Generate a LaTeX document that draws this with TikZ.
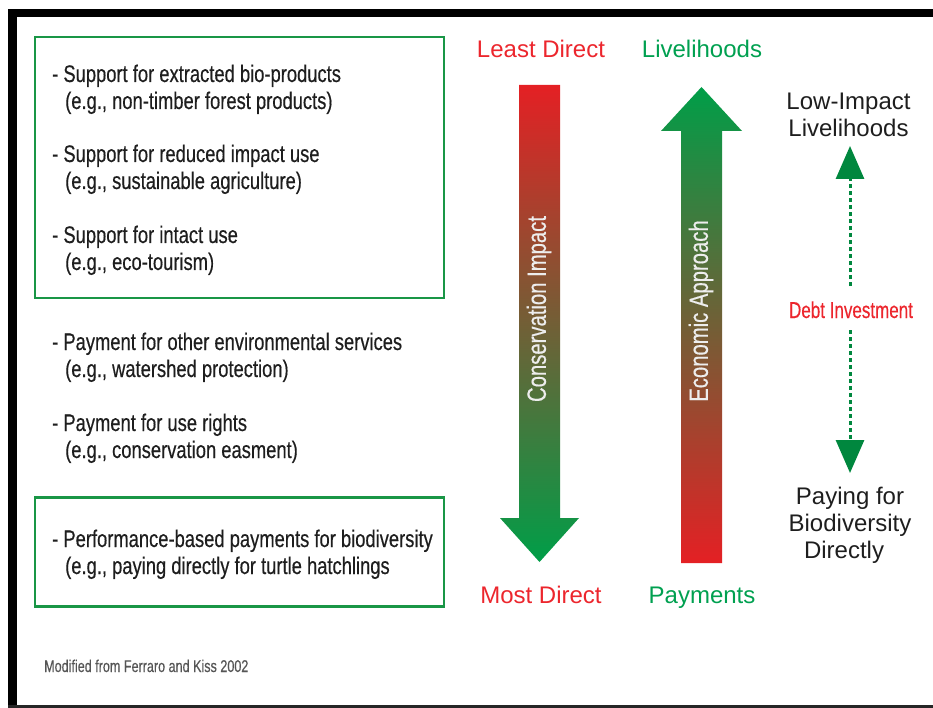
\documentclass[tikz,border=0pt]{standalone}
\usepackage{fontspec}
\setmainfont{Liberation Sans}
\newfontfamily\condfont[FakeStretch=0.765,FakeBold=0.4]{Liberation Sans}
\newfontfamily\narrowfont[FakeStretch=0.74,FakeBold=0.4]{Liberation Sans}
\usetikzlibrary{arrows.meta}

\definecolor{boxgreen}{RGB}{25,150,70}
\definecolor{labelred}{RGB}{236,38,45}
\definecolor{labelgreen}{RGB}{0,160,80}
\definecolor{arrowred}{RGB}{228,32,36}
\definecolor{arrowgreen}{RGB}{0,158,72}
\definecolor{inkgray}{RGB}{30,30,30}
\definecolor{notegray}{RGB}{85,85,85}
\definecolor{dashgreen}{RGB}{0,135,62}

\begin{document}
\begin{tikzpicture}[x=1pt,y=-1pt,
  itemtext/.style={anchor=base west, inner sep=0pt, text=inkgray,
    font=\condfont\fontsize{24}{27}\selectfont},
  greenbox/.style={draw=boxgreen, line width=2.5pt, inner sep=0pt},
  endlabel/.style={anchor=base, inner sep=0pt, font=\fontsize{24}{27}\selectfont},
  sidelabel/.style={anchor=base, inner sep=0pt, text=inkgray,
    font=\fontsize{24}{27}\selectfont},
  arrowtext/.style={rotate=90, inner sep=0pt, text=white!93!black,
    font=\condfont\fontsize{26.5}{28}\selectfont},
  bigarrow/.style={draw=none},
  dashlink/.style={draw=dashgreen, line width=3pt, dash pattern=on 4pt off 3pt,
    -{Triangle[width=28pt,length=33pt]}},
]
\useasboundingbox (0,0) rectangle (933,708);

% black frame (open on the right)
\fill[black] (8,9) rectangle (933,17);
\fill[black] (8,9) rectangle (17,708);
\fill[black!85] (8,705) rectangle (933,708);

% green boxes around the first and last groups
\node[greenbox, minimum width=409pt, minimum height=261pt] (boxtop) at (239.5,167.5) {};
\node[greenbox, minimum width=409pt, minimum height=109pt] (boxbottom) at (239.5,552) {};

% list of instruments
\node[itemtext] (i1a) at (52,82)  {- Support for extracted bio-products};
\node[itemtext] (i1b) at (65,109) {(e.g., non-timber forest products)};
\node[itemtext] (i2a) at (52,162) {- Support for reduced impact use};
\node[itemtext] (i2b) at (65,189) {(e.g., sustainable agriculture)};
\node[itemtext] (i3a) at (52,243) {- Support for intact use};
\node[itemtext] (i3b) at (65,270) {(e.g., eco-tourism)};
\node[itemtext] (i4a) at (52,350) {- Payment for other environmental services};
\node[itemtext] (i4b) at (65,377) {(e.g., watershed protection)};
\node[itemtext] (i5a) at (52,431) {- Payment for use rights};
\node[itemtext] (i5b) at (65,458) {(e.g., conservation easment)};
\node[itemtext] (i6a) at (52,547) {- Performance-based payments for biodiversity};
\node[itemtext] (i6b) at (65,574) {(e.g., paying directly for turtle hatchlings};

\node[anchor=base west, inner sep=0pt, text=notegray,
  font=\narrowfont\fontsize{17}{20}\selectfont] (source) at (44,672)
  {Modified from Ferraro and Kiss 2002};

% conservation impact arrow (down)
\shade[bigarrow, top color=arrowred, bottom color=arrowgreen]
  (519,85) -- (560,85) -- (560,518) -- (579,518) -- (539.5,562)
  -- (500,518) -- (519,518) -- cycle;
\node[arrowtext] (impact) at (539,309) {Conservation Impact};

% economic approach arrow (up)
\shade[bigarrow, top color=arrowgreen, bottom color=arrowred]
  (681,563) -- (722,563) -- (722,131) -- (742,131) -- (701.5,87)
  -- (661,131) -- (681,131) -- cycle;
\node[arrowtext] (approach) at (701,311) {Economic Approach};

% arrow end labels
\node[endlabel, text=labelred] (leastdirect) at (541,58) {Least Direct};
\node[endlabel, text=labelred] (mostdirect) at (541,603) {Most Direct};
\node[endlabel, text=labelgreen] (livelihoods) at (702,58) {Livelihoods};
\node[endlabel, text=labelgreen] (payments) at (702,603) {Payments};

% right-hand scale
\node[sidelabel] (low1) at (848.5,110) {Low-Impact};
\node[sidelabel] (low2) at (848.5,137) {Livelihoods};
\node[sidelabel] (pay1) at (850,504) {Paying for};
\node[sidelabel] (pay2) at (850,531) {Biodiversity};
\node[sidelabel] (pay3) at (844,558) {Directly};

\node[anchor=base, inner sep=0pt, text=labelred,
  font=\narrowfont\fontsize{23}{26}\selectfont] (debt) at (851,318) {Debt Investment};

\coordinate (uptop) at (850,146);
\coordinate (downbottom) at (850,473);
\draw[dashlink] (debt.north -| uptop) ++(0,-15) -- (uptop);
\draw[dashlink] (debt.south -| downbottom) ++(0,12) -- (downbottom);
\end{tikzpicture}
\end{document}
